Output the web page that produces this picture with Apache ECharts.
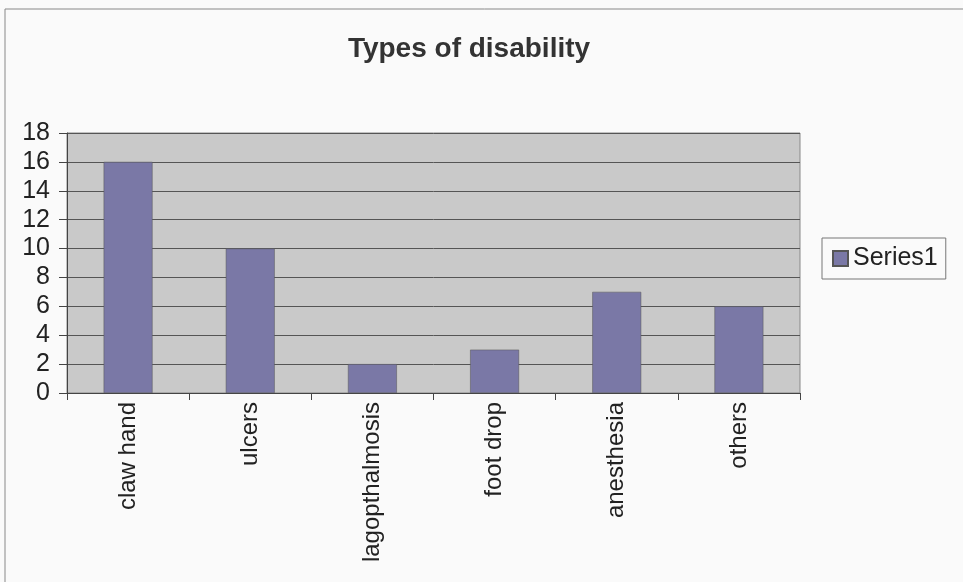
<!DOCTYPE html>
<html>
<head>
<meta charset="utf-8">
<script src="https://cdn.jsdelivr.net/npm/echarts@6/dist/echarts.min.js"></script>
<style>
html, body { margin: 0; padding: 0; background: #fafafa; }
#chart { width: 963px; height: 582px; }
</style>
</head>
<body>
<div id="chart"></div>
<script>
// data
var categories = ['claw hand', 'ulcers', 'lagopthalmosis', 'foot drop', 'anesthesia', 'others'];
var series1 = [16, 10, 2, 3, 7, 6];
var yTicks = [0, 2, 4, 6, 8, 10, 12, 14, 16, 18];

var chart = echarts.init(document.getElementById('chart'));
var font = 'Liberation Sans, Arial, sans-serif';

chart.setOption({
	backgroundColor: '#fafafa',
	textStyle: { fontFamily: font },
	title: {
		text: 'Types of disability',
		left: 464,
		top: 30,
		textAlign: 'center',
		textStyle: { fontSize: 28, fontWeight: 'bold', color: '#333', fontFamily: font }
	},
	legend: {
		data: [{ name: 'Series1', icon: 'rect' }],
		orient: 'vertical',
		left: 822,
		top: 238,
		padding: [8, 8, 8, 10],
		borderColor: '#777',
		borderWidth: 1,
		itemWidth: 15,
		itemHeight: 15,
		itemGap: 8,
		textStyle: { fontSize: 25, color: '#222', fontFamily: font }
	},
	graphic: [{
		type: 'rect',
		shape: { x: 5, y: 9, width: 970, height: 590 },
		style: { fill: 'none', stroke: '#888', lineWidth: 1 },
		silent: true
	}],
	grid: {
		left: 67,
		top: 133,
		width: 733,
		height: 260,
		show: true,
		backgroundColor: '#c9c9c9',
		borderColor: '#888',
		borderWidth: 1
	},
	xAxis: {
		type: 'category',
		data: categories,
		axisLine: { lineStyle: { color: '#444' } },
		axisTick: { show: true, length: 7, lineStyle: { color: '#444' } },
		axisLabel: {
			rotate: 90,
			margin: 9,
			fontSize: 24,
			color: '#222',
			fontFamily: font
		}
	},
	yAxis: {
		type: 'value',
		min: yTicks[0],
		max: yTicks[yTicks.length - 1],
		interval: 2,
		axisLine: { show: true, lineStyle: { color: '#444' } },
		axisTick: { show: true, length: 8, lineStyle: { color: '#444' } },
		axisLabel: { fontSize: 25, color: '#222', margin: 17, fontFamily: font },
		splitLine: { lineStyle: { color: '#555', width: 1 } }
	},
	series: [{
		name: 'Series1',
		type: 'bar',
		data: series1,
		barCategoryGap: '60%',
		itemStyle: { color: '#7a78a6', borderColor: '#555', borderWidth: 0.5 }
	}]
});
</script>
</body>
</html>
